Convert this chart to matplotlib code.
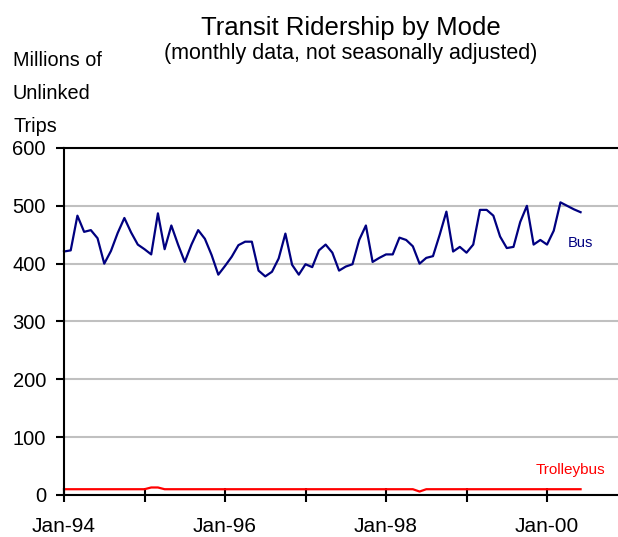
import numpy as np
import matplotlib.pyplot as plt

plt.rcParams['font.family'] = ['Liberation Sans', 'DejaVu Sans']

# monthly data, Jan-94 .. Jun-00 (millions of unlinked trips)
bus = [421, 423, 483, 455, 458, 444, 400, 422, 453, 479,
       454, 433, 425, 416, 487, 425, 466, 433, 403, 433,
       458, 443, 415, 381, 396, 412, 432, 438, 438, 388,
       378, 386, 409, 452, 398, 381, 399, 394, 423, 433,
       419, 388, 395, 399, 441, 466, 403, 410, 416, 416,
       445, 441, 430, 400, 410, 413, 450, 490, 421, 429,
       419, 433, 493, 493, 483, 447, 427, 429, 472, 500,
       433, 441, 433, 457, 506, 500, 494, 489]
trolley = [10] * len(bus)
trolley[13] = 13
trolley[14] = 13
trolley[53] = 6

months = np.arange(len(bus))
year_ticks = np.arange(0, 84, 12)
tick_labels = ['Jan-94', '', 'Jan-96', '', 'Jan-98', '', 'Jan-00']

fig = plt.figure(figsize=(6.18, 5.37), dpi=100)
ax = fig.add_axes([64 / 618, 1 - 495 / 537, 1 - 64 / 618 + 0.01, (495 - 148) / 537])

ax.plot(months, bus, color='#000080', lw=1.6, clip_on=False)
ax.plot(months, trolley, color='#ff0000', lw=1.6, clip_on=False)

ax.set_ylim(0, 600)
ax.set_xlim(0, 83.5)
ax.set_yticks(range(0, 601, 100))
ax.set_xticks(year_ticks)
ax.set_xticklabels(tick_labels)
ax.yaxis.grid(True, color='#c0c0c0', lw=1.5)
ax.set_axisbelow(True)

for s in ['left', 'bottom', 'top']:
    ax.spines[s].set_linewidth(1.5)
    ax.spines[s].set_color('black')
ax.spines['right'].set_visible(False)

ax.tick_params(axis='y', direction='out', length=6, width=1.5, labelsize=14.5, pad=7)
ax.tick_params(axis='x', direction='inout', length=10, width=1.5, labelsize=15, pad=11)

ax.text(77, 435, 'Bus', color='#000080', fontsize=10.5, ha='center', va='center')
ax.text(75.5, 43, 'Trolleybus', color='#ff0000', fontsize=11, ha='center', va='center')

fig.text(351 / 618, 1 - 28 / 537, 'Transit Ridership by Mode', fontsize=18.5,
         ha='center', va='center')
fig.text(351 / 618, 1 - 53 / 537, '(monthly data, not seasonally adjusted)', fontsize=15.5,
         ha='center', va='center')
for k, line in enumerate(['Millions of', 'Unlinked', 'Trips']):
    fig.text(13 / 618, 1 - (66 + 33 * k) / 537, line, fontsize=14.3, ha='left', va='baseline')

fig.savefig('out.png', dpi=100)
